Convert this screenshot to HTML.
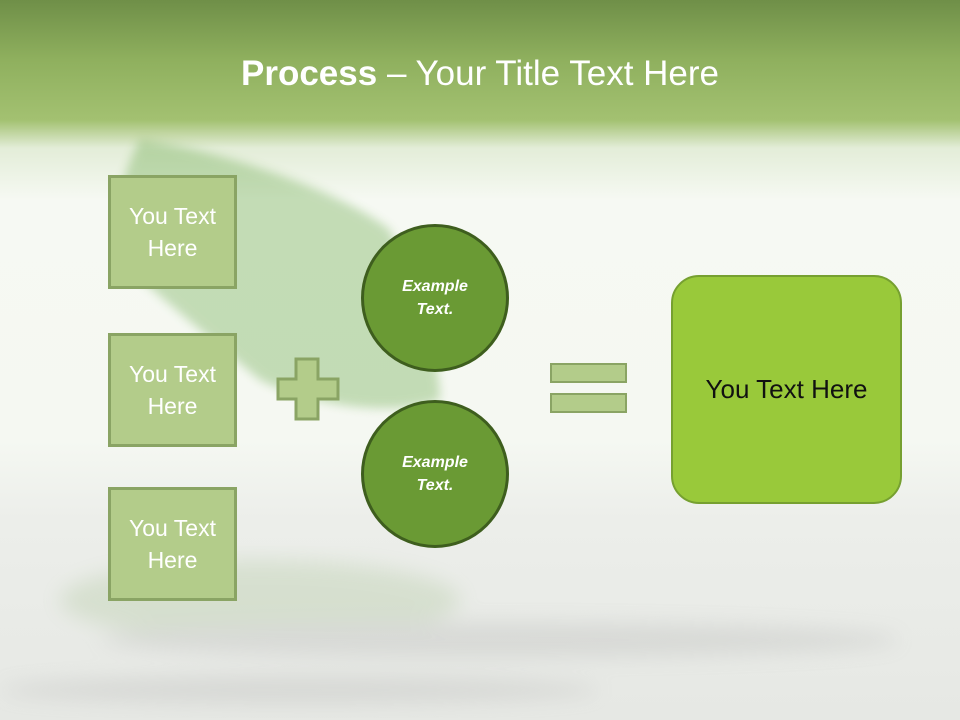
<!DOCTYPE html>
<html><head><style>
body{margin:0;width:960px;height:720px;overflow:hidden;font-family:"Liberation Sans","DejaVu Sans",sans-serif}
.bg{position:absolute;left:0;top:0;width:960px;height:720px;background:linear-gradient(#6f8f48 0px,#8fb05e 60px,#a3c171 120px,#e3edd8 148px,#f6f9f3 200px,#f5f8f2 440px,#eceeea 520px,#e6e8e4 720px)}
.box{position:absolute;left:108px;width:123px;height:108px;background:#b3cc8a;border:3px solid #8aa464;color:#fff;font-size:23px;text-align:center;display:flex;align-items:center;justify-content:center;line-height:32px}
.circ{position:absolute;left:361px;width:142px;height:142px;border-radius:50%;background:#6a9a34;border:3px solid #3e5e1e;color:#fff;font-weight:bold;font-style:italic;font-size:16px;display:flex;align-items:center;justify-content:center;text-align:center;line-height:23px}
.bar{position:absolute;left:550px;width:73px;height:16px;background:#b3cc8a;border:2px solid #8aa464}
</style></head><body>
<div class="bg"></div>
<svg style="position:absolute;left:0;top:0" width="960" height="720">
<defs><filter id="b"><feGaussianBlur stdDeviation="5"/></filter><filter id="c"><feGaussianBlur stdDeviation="10"/></filter></defs>
<g opacity="0.3" filter="url(#b)">
<path d="M140 140 C220 150 340 190 390 230 C420 300 440 360 440 400 C380 420 300 400 260 380 C200 330 140 280 120 260 C110 200 130 160 140 140 Z" fill="#4f9a2c"/>
</g>
<g opacity="0.2" filter="url(#c)">
<ellipse cx="260" cy="600" rx="200" ry="40" fill="#8ab070"/>
<ellipse cx="500" cy="640" rx="400" ry="18" fill="#999"/>
<ellipse cx="300" cy="690" rx="300" ry="14" fill="#999"/>
</g>
</svg>
<div style="position:absolute;top:54px;width:960px;text-align:center;color:#fff;font-size:35px"><b>Process</b> – Your Title Text Here</div>
<div class="box" style="top:175px">You Text<br>Here</div>
<div class="box" style="top:333px">You Text<br>Here</div>
<div class="box" style="top:487px">You Text<br>Here</div>
<svg style="position:absolute;left:276px;top:357px" width="64" height="64"><path d="M20 2h22v20h20v20h-20v20h-22v-20h-18v-20h18z" fill="#b3cc8a" stroke="#8aa464" stroke-width="3"/></svg>
<div class="circ" style="top:224px">Example<br>Text.</div>
<div class="circ" style="top:400px">Example<br>Text.</div>
<div class="bar" style="top:363px"></div>
<div class="bar" style="top:393px"></div>
<div style="position:absolute;left:671px;top:275px;width:227px;height:225px;border-radius:28px;background:#99c93a;border:2px solid #76a030;display:flex;align-items:center;justify-content:center;font-size:26px;color:#111">You Text Here</div>
</body></html>
